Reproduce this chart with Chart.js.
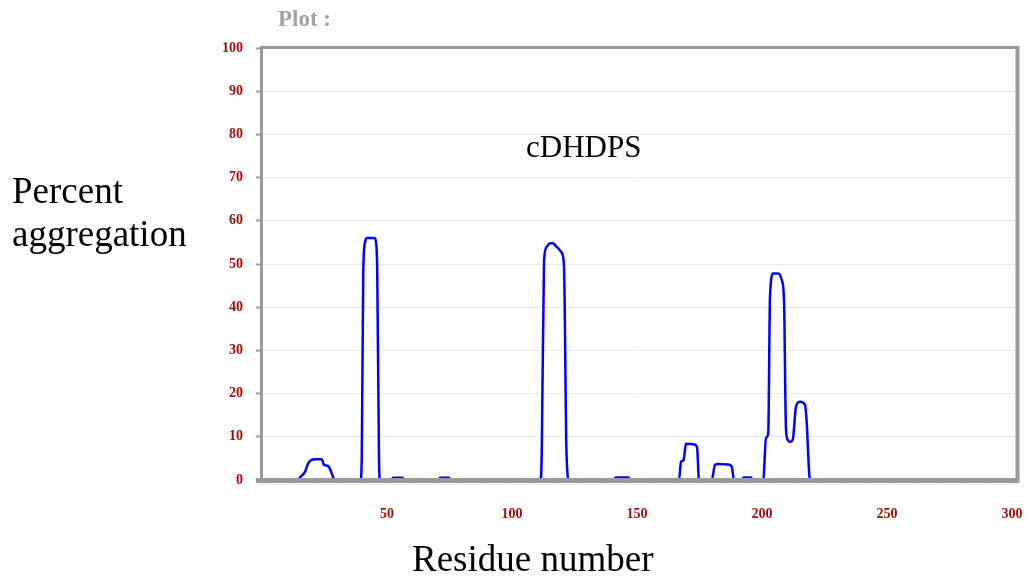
<!DOCTYPE html>
<html>
<head>
<meta charset="utf-8">
<script src="https://cdn.jsdelivr.net/npm/chart.js@4.4.0/dist/chart.umd.min.js"></script>
<style>
html, body { margin: 0; padding: 0; background: #fff; }
#wrap { position: relative; width: 1028px; height: 586px; overflow: hidden; }
#wrap canvas { position: absolute; left: 0; top: 0; }
.t { position: absolute; font-family: "Liberation Serif", "Times New Roman", serif; white-space: nowrap; color: #000; }
</style>
</head>
<body>
<div id="wrap">
  <canvas id="c" width="1028" height="586"></canvas>
  <div class="t" style="left:278px;top:7px;font-size:23px;line-height:23px;font-weight:bold;color:#a3a3a3">Plot :</div>
  <div class="t" style="left:526px;top:131px;font-size:31px;line-height:31px">cDHDPS</div>
  <div class="t" style="left:12px;top:169px;font-size:37px;line-height:43px">Percent<br>aggregation</div>
  <div class="t" style="left:412px;top:540px;font-size:37px;line-height:37px">Residue number</div>
</div>
<script>
// values (residue, percent aggregation)
const residues = [
  1, 14.6, 15.2, 17.2, 18.5, 21.2, 23.9, 24.8, 26.5, 28.5, 29,
  39.4, 39.9, 40.5, 41.2, 42, 45, 45.6, 46.1, 46.8, 47.2,
  51.8, 52.4, 56.2, 56.8, 70.6, 71.2, 74.8, 75.4,
  111.4, 111.9, 112.8, 113.9, 115.2, 116.4, 117.2, 118.5, 119.9, 120.8, 121.8, 122.8,
  140.8, 141.4, 146.6, 147.2,
  166.8, 167.6, 168.6, 169.6, 172.6, 174.0, 174.8,
  179.9, 181.2, 182.5, 186.5, 187.9, 188.8,
  192, 192.6, 195.6, 196.2,
  200.5, 201.6, 202.5, 203.2, 204.5, 206.5, 207.9, 208.8, 209.6, 210.4, 211.2, 212.3,
  213.6, 215.2, 217.2, 217.9, 219, 219.6, 302
];
const aggregation = [
  0, 0, 0.6, 1.9, 3.9, 4.8, 4.8, 3.5, 3.2, 0.6, 0,
  0, 5, 48, 55, 56, 56, 55, 48, 5, 0,
  0, 0.5, 0.5, 0, 0, 0.5, 0.5, 0,
  0, 6, 50.5, 54, 54.8, 54.8, 54.4, 53.6, 52.6, 49.4, 6.2, 0,
  0, 0.6, 0.6, 0,
  0, 4.2, 4.6, 8.4, 8.3, 7.7, 0,
  0, 3.5, 3.7, 3.6, 3.1, 0,
  0, 0.55, 0.55, 0,
  0, 9.7, 10.8, 42.5, 47.8, 47.8, 46.3, 41.7, 11.6, 9.2, 8.8, 9.3,
  17, 18.1, 17.4, 13.2, 0.8, 0, 0
];
const xTicks = [50, 100, 150, 200, 250, 300];
const yMin = 0, yMax = 100, yStep = 10;
const xMin = 0, xMax = 302;

const labelFont = { family: '"Liberation Serif", "Times New Roman", serif', size: 14, weight: 'bold' };
const labelColor = '#9b0d0d';

// plot frame goes on top of the line so the zero baseline hides under it
const framePlugin = {
  id: 'frame',
  afterDatasetsDraw(chart) {
    const { ctx, chartArea: a } = chart;
    ctx.save();
    ctx.strokeStyle = '#9a9a9a';
    ctx.lineWidth = 3;
    ctx.beginPath();
    ctx.moveTo(a.left - 1.5, a.top - 0.5);
    ctx.lineTo(a.right + 2, a.top - 0.5);
    ctx.moveTo(a.left - 0.5, a.top - 2);
    ctx.lineTo(a.left - 0.5, a.bottom);
    ctx.stroke();
    ctx.lineWidth = 4;
    ctx.beginPath();
    ctx.moveTo(a.right + 0.5, a.top - 2);
    ctx.lineTo(a.right + 0.5, a.bottom);
    ctx.stroke();
    ctx.lineWidth = 5;
    ctx.beginPath();
    ctx.moveTo(a.left - 6, a.bottom + 0.5);
    ctx.lineTo(a.right + 2.5, a.bottom + 0.5);
    ctx.stroke();
    ctx.strokeStyle = '#cfcfcf';
    ctx.lineWidth = 1;
    ctx.setLineDash([1, 2]);
    ctx.beginPath();
    ctx.moveTo(a.left - 2, a.bottom + 4.5);
    ctx.lineTo(a.right + 2, a.bottom + 4.5);
    ctx.stroke();
    ctx.restore();
  }
};

new Chart(document.getElementById('c'), {
  type: 'line',
  data: {
    datasets: [{
      data: residues.map((r, i) => ({ x: r, y: aggregation[i] })),
      borderColor: '#0000ff',
      borderWidth: 2.5,
      pointRadius: 0,
      fill: false,
      cubicInterpolationMode: 'monotone'
    }]
  },
  options: {
    responsive: false,
    animation: false,
    layout: { padding: { left: 0, right: 11, top: 48, bottom: 0 } },
    plugins: { legend: { display: false }, tooltip: { enabled: false } },
    scales: {
      x: {
        type: 'linear',
        min: xMin,
        max: xMax,
        afterFit(s) { s.height = 106; s.paddingLeft = 0; s.paddingRight = 0; },
        afterBuildTicks(s) { s.ticks = xTicks.map(v => ({ value: v })); },
        grid: { display: false, drawTicks: false },
        border: { display: false },
        ticks: { font: labelFont, color: labelColor, padding: 26, maxRotation: 0, autoSkip: false }
      },
      y: {
        min: yMin,
        max: yMax,
        afterFit(s) { s.width = 262; },
        grid: { color: '#e9e9e9', lineWidth: 1, tickColor: '#9a9a9a', tickLength: 6, tickWidth: 2 },
        border: { display: false },
        ticks: { stepSize: yStep, font: labelFont, color: labelColor, padding: 13 }
      }
    }
  },
  plugins: [framePlugin]
});
</script>
</body>
</html>
